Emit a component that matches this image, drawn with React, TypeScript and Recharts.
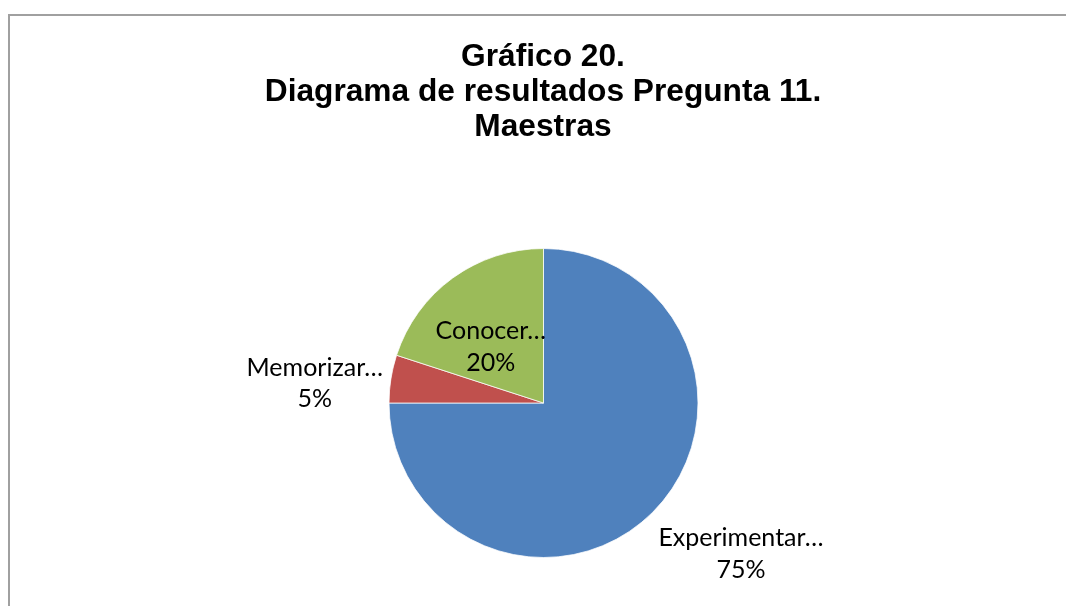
import { Cell, Pie, PieChart } from "recharts";

const categories = ["Experimentar…", "Memorizar…", "Conocer…"];
const percentages = [75, 5, 20];
const sliceColors = ["#4F81BD", "#C0504D", "#9BBB59"];
const labelInside = [false, false, true];

const titleLines = ["Gráfico 20.", "Diagrama de resultados Pregunta 11.", "Maestras"];

const data = categories.map((name, i) => ({ name, value: percentages[i] }));

const RADIAN = Math.PI / 180;
const LABEL_FONT = "25px Lato, sans-serif";

// measure label width so an outside label's near edge sits just off the pie
let measureCtx: CanvasRenderingContext2D | null = null;
function textWidth(s: string) {
    if (!measureCtx) {
        measureCtx = document.createElement("canvas").getContext("2d");
    }
    if (!measureCtx) return s.length * 12.5;
    measureCtx.font = LABEL_FONT;
    return measureCtx.measureText(s).width;
}

function SliceLabel(props: any) {
    const { cx, cy, midAngle, outerRadius, index, percent } = props;
    const cos = Math.cos(midAngle * RADIAN);
    const sin = Math.sin(midAngle * RADIAN);
    let x: number;
    let y: number;
    if (labelInside[index]) {
        const r = outerRadius * 0.58;
        x = cx + r * cos;
        y = cy - r * sin + 16;
    } else {
        const r = outerRadius + 8;
        const halfW = textWidth(categories[index]) / 2;
        x = cx + r * cos + Math.sign(cos) * halfW;
        y = cy - r * sin - sin * 35 + 11;
    }
    return (
        <text
            x={x}
            y={y}
            textAnchor="middle"
            fill="#000"
            style={{ fontFamily: "Lato, sans-serif", fontSize: 25 }}>
            <tspan x={x} dy={-7.5}>{categories[index]}</tspan>
            <tspan x={x} dy={31.5}>{`${Math.round(percent * 100)}%`}</tspan>
        </text>
    );
}

export default function App() {
    return (
        <div style={{ position: "relative", width: 1058, height: 590, overflow: "hidden" }}>
            <div
                style={{
                    position: "fixed",
                    left: 8,
                    top: 14,
                    width: 1200,
                    height: 800,
                    border: "2px solid #a0a0a0",
                    boxSizing: "border-box"
                }} />
            <div
                style={{
                    position: "absolute",
                    left: 35,
                    top: 30.3,
                    width: 1000,
                    textAlign: "center",
                    fontFamily: "'Liberation Sans', Arial, sans-serif",
                    fontWeight: "bold",
                    fontSize: 31.7,
                    lineHeight: "35px",
                    color: "#000"
                }}>
                {titleLines.map((t) => (
                    <div key={t}>{t}</div>
                ))}
            </div>
            <div style={{ position: "absolute", left: 0, top: 0 }}>
                <PieChart width={1058} height={590}>
                    <Pie
                        data={data}
                        dataKey="value"
                        nameKey="name"
                        cx={530.5}
                        cy={390}
                        outerRadius={154.5}
                        startAngle={90}
                        endAngle={-270}
                        stroke="#fff"
                        strokeWidth={0.75}
                        labelLine={false}
                        label={SliceLabel}
                        isAnimationActive={false}>
                        {data.map((d, i) => (
                            <Cell key={d.name} fill={sliceColors[i]} />
                        ))}
                    </Pie>
                </PieChart>
            </div>
        </div>
    );
}
